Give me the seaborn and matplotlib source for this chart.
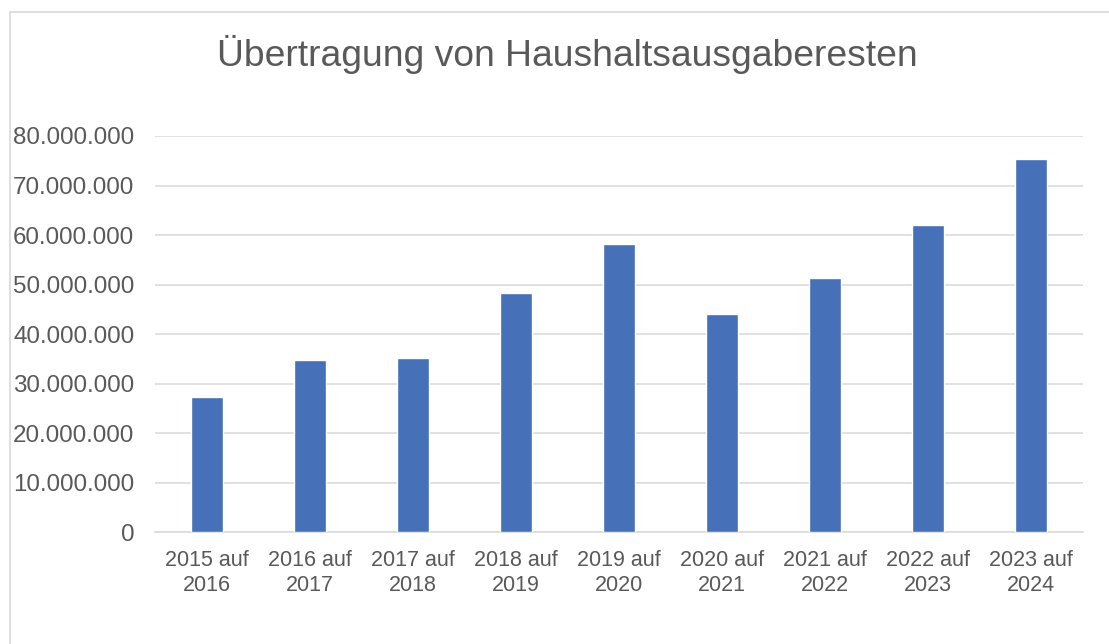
import matplotlib
matplotlib.use("Agg")
import matplotlib.pyplot as plt
import seaborn as sns
import pandas as pd
from matplotlib.ticker import FuncFormatter, MultipleLocator
from matplotlib.lines import Line2D

categories = ["2015 auf\n2016", "2016 auf\n2017", "2017 auf\n2018", "2018 auf\n2019",
              "2019 auf\n2020", "2020 auf\n2021", "2021 auf\n2022", "2022 auf\n2023",
              "2023 auf\n2024"]
values = [27300000, 34800000, 35100000, 48300000, 58200000, 44100000, 51300000, 62000000, 75400000]
title = "Übertragung von Haushaltsausgaberesten"

sns.set_theme(style="white")
plt.rcParams['font.family'] = ['Liberation Sans', 'DejaVu Sans']

df = pd.DataFrame({"cat": categories, "val": values})

fig = plt.figure(figsize=(11.09, 6.44), dpi=100)
ax = fig.add_axes([155/1109, (644-532.3)/644, (1082.5-155)/1109, (532.3-136)/644])

sns.barplot(data=df, x="cat", y="val", color="#4671B8", width=0.31, saturation=1, ax=ax, zorder=3)

ax.set_ylim(0, 80000000)
ax.set_xlim(-0.5, len(categories) - 0.5)
ax.yaxis.set_major_locator(MultipleLocator(10000000))
ax.yaxis.set_major_formatter(FuncFormatter(lambda v, p: f"{int(v):,}".replace(",", ".")))
ax.grid(axis="y", color="#D9D9D9", linewidth=1.1, zorder=0)
ax.set_axisbelow(True)
for s in ["top", "right", "left"]:
    ax.spines[s].set_visible(False)
ax.spines["bottom"].set_color("#D9D9D9")
ax.spines["bottom"].set_linewidth(1.1)
ax.set_xlabel("")
ax.set_ylabel("")
ax.tick_params(axis="y", labelsize=17.4, labelcolor="#595959", length=0, pad=15)
ax.tick_params(axis="x", labelsize=15.5, labelcolor="#595959", length=0, pad=13)
for lbl in ax.get_xticklabels():
    lbl.set_linespacing(1.2)

fig.text(567/1109, 1 - 55/644, title, ha="center", va="center", fontsize=26.8, color="#595959")

# chart border (top and left)
fig.add_artist(Line2D([10/1109, 1], [1 - 12/644, 1 - 12/644], color="#D9D9D9", linewidth=1.2, transform=fig.transFigure))
fig.add_artist(Line2D([10/1109, 10/1109], [0, 1 - 12/644], color="#D9D9D9", linewidth=1.2, transform=fig.transFigure))

fig.savefig("out.png", dpi=100, facecolor="white")
